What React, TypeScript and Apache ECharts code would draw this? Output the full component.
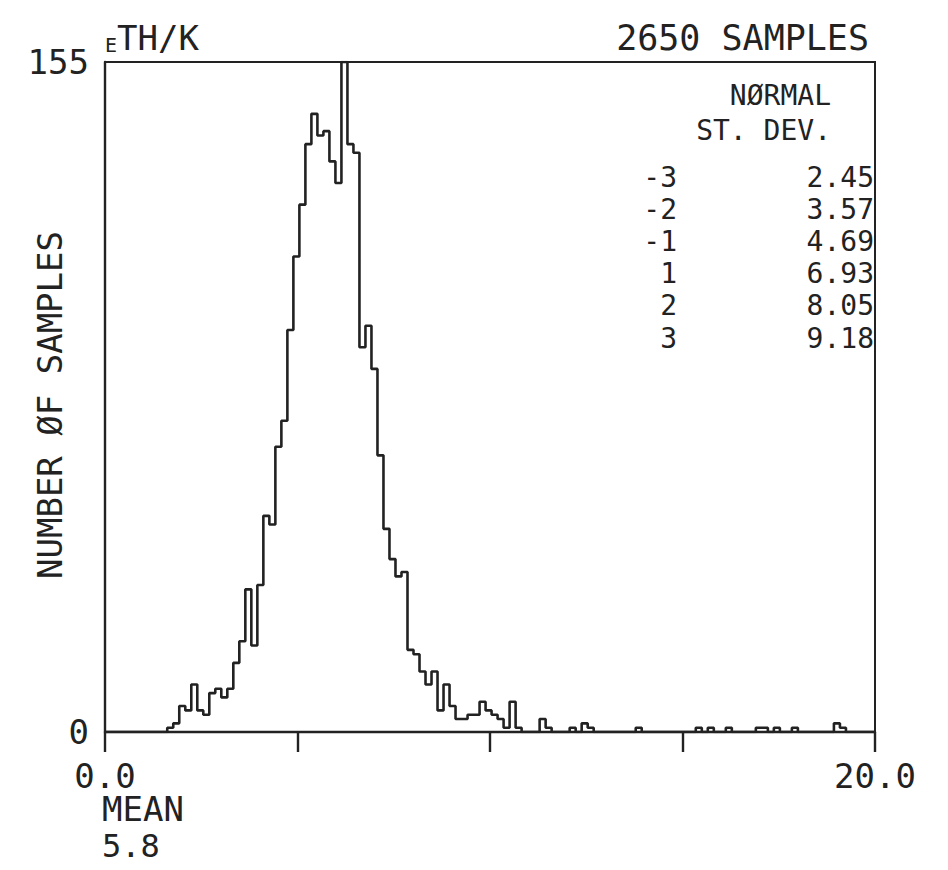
import React, { useEffect, useRef } from "react";
import * as echarts from "echarts";

// Histogram bin layout (x units)
const binStart = 0.057;
const binWidth = 0.156;

// Counts per bin (128 bins)
const binCounts: number[] = [
  0, 0, 0, 0, 0, 0, 0, 0, 0, 0,
  1, 2, 6, 5, 11, 5, 4, 9, 10, 8,
  10, 16, 21, 33, 20, 34, 50, 48, 66, 72,
  93, 110, 122, 136, 143, 138, 139, 132, 127, 155,
  136, 134, 89, 94, 84, 64, 47, 40, 36, 37,
  19, 18, 14, 11, 14, 5, 11, 6, 3, 3,
  4, 4, 7, 5, 4, 3, 1, 7, 1, 0,
  0, 0, 3, 1, 0, 0, 0, 1, 0, 2,
  1, 0, 0, 0, 0, 0, 0, 0, 1, 0,
  0, 0, 0, 0, 0, 0, 0, 0, 1, 0,
  1, 0, 0, 1, 0, 0, 0, 0, 1, 1,
  0, 1, 0, 0, 1, 0, 0, 0, 0, 0,
  0, 2, 1, 0, 0, 0, 0, 0,
];

// Axis ticks and labels
const xMin = 0;
const xMax = 20;
const xInterval = 5;
const xLabelValues = [0, 20];
const xLabelTexts = ["0.0", "20.0"];
const yMin = 0;
const yMax = 155;
const yLabelValues = [0, 155];
const yLabelTexts = ["0", "155"];

// Annotation table
const stdDevs = ["-3", "-2", "-1", "1", "2", "3"];
const normalValues = ["2.45", "3.57", "4.69", "6.93", "8.05", "9.18"];
const sampleText = "2650 SAMPLES";
const yTitle = "NUMBER ØF SAMPLES";
const meanLabel = "MEAN";
const meanValue = "5.8";

const FONT = "'DejaVu Sans Mono', monospace";
const INK = "#222";

export default function App() {
  const ref = useRef<HTMLDivElement>(null);

  useEffect(() => {
    if (!ref.current) return;
    const chart = echarts.init(ref.current, null, { renderer: "svg" });

    const points: number[][] = [[xMin, 0]];
    binCounts.forEach((c, i) => points.push([binStart + i * binWidth, c]));
    points.push([binStart + binCounts.length * binWidth, 0]);

    const tableGraphics: any[] = [];
    stdDevs.forEach((s, i) => {
      const y = 177 + i * 32.2;
      tableGraphics.push({
        type: "text",
        x: 677,
        y,
        style: { text: s, font: `28px ${FONT}`, fill: INK, align: "right", verticalAlign: "middle" },
      });
      tableGraphics.push({
        type: "text",
        x: 874,
        y,
        style: { text: normalValues[i], font: `28px ${FONT}`, fill: INK, align: "right", verticalAlign: "middle" },
      });
    });

    chart.setOption({
      animation: false,
      backgroundColor: "#fff",
      grid: {
        left: 105,
        right: 73,
        top: 62,
        bottom: 138,
        show: true,
        borderColor: INK,
        borderWidth: 2,
        backgroundColor: "transparent",
      },
      xAxis: {
        type: "value",
        min: xMin,
        max: xMax,
        interval: xInterval,
        splitLine: { show: false },
        axisLine: { show: true, lineStyle: { color: INK, width: 2.4 } },
        axisTick: { show: true, length: 20, lineStyle: { color: INK, width: 2.4 } },
        axisLabel: {
          show: true,
          margin: 27,
          color: INK,
          fontFamily: FONT,
          fontSize: 34,
          showMinLabel: true,
          showMaxLabel: true,
          formatter: (v: number) => {
            const idx = xLabelValues.indexOf(v);
            return idx >= 0 ? xLabelTexts[idx] : "";
          },
        },
      },
      yAxis: {
        type: "value",
        min: yMin,
        max: yMax,
        interval: yMax,
        splitLine: { show: false },
        axisLine: { show: true, lineStyle: { color: INK, width: 2.4 } },
        axisTick: { show: false },
        axisLabel: {
          show: true,
          margin: 16,
          color: INK,
          fontFamily: FONT,
          fontSize: 34,
          formatter: (v: number) => {
            const idx = yLabelValues.indexOf(v);
            return idx >= 0 ? yLabelTexts[idx] : "";
          },
        },
      },
      series: [
        {
          type: "line",
          step: "end",
          data: points,
          symbol: "none",
          clip: true,
          lineStyle: { color: INK, width: 2.6 },
          z: 5,
        },
      ],
      graphic: [
        {
          type: "text",
          x: 105,
          y: 38,
          style: {
            text: "{e|E}{t|TH/K}",
            fill: INK,
            verticalAlign: "middle",
            rich: {
              e: { font: `20px ${FONT}`, fill: INK, verticalAlign: "bottom", padding: [4, 0, 0, 0] },
              t: { font: `34px ${FONT}`, fill: INK },
            },
          },
        },
        {
          type: "text",
          x: 869,
          y: 38,
          style: { text: sampleText, font: `35px ${FONT}`, fill: INK, align: "right", verticalAlign: "middle" },
        },
        {
          type: "text",
          x: 50,
          y: 405,
          rotation: Math.PI / 2,
          style: { text: yTitle, font: `34px ${FONT}`, fill: INK, align: "center", verticalAlign: "middle" },
        },
        {
          type: "text",
          x: 831,
          y: 95,
          style: { text: "NØRMAL", font: `28px ${FONT}`, fill: INK, align: "right", verticalAlign: "middle" },
        },
        {
          type: "text",
          x: 831,
          y: 130,
          style: { text: "ST. DEV.", font: `28px ${FONT}`, fill: INK, align: "right", verticalAlign: "middle" },
        },
        ...tableGraphics,
        {
          type: "text",
          x: 102,
          y: 809,
          style: { text: meanLabel, font: `34px ${FONT}`, fill: INK, align: "left", verticalAlign: "middle" },
        },
        {
          type: "text",
          x: 102,
          y: 846,
          style: { text: meanValue, font: `32px ${FONT}`, fill: INK, align: "left", verticalAlign: "middle" },
        },
      ],
    });

    return () => chart.dispose();
  }, []);

  return (
    <div
      ref={ref}
      style={{ position: "absolute", left: 0, top: 0, width: 948, height: 870, background: "#fff" }}
    />
  );
}
